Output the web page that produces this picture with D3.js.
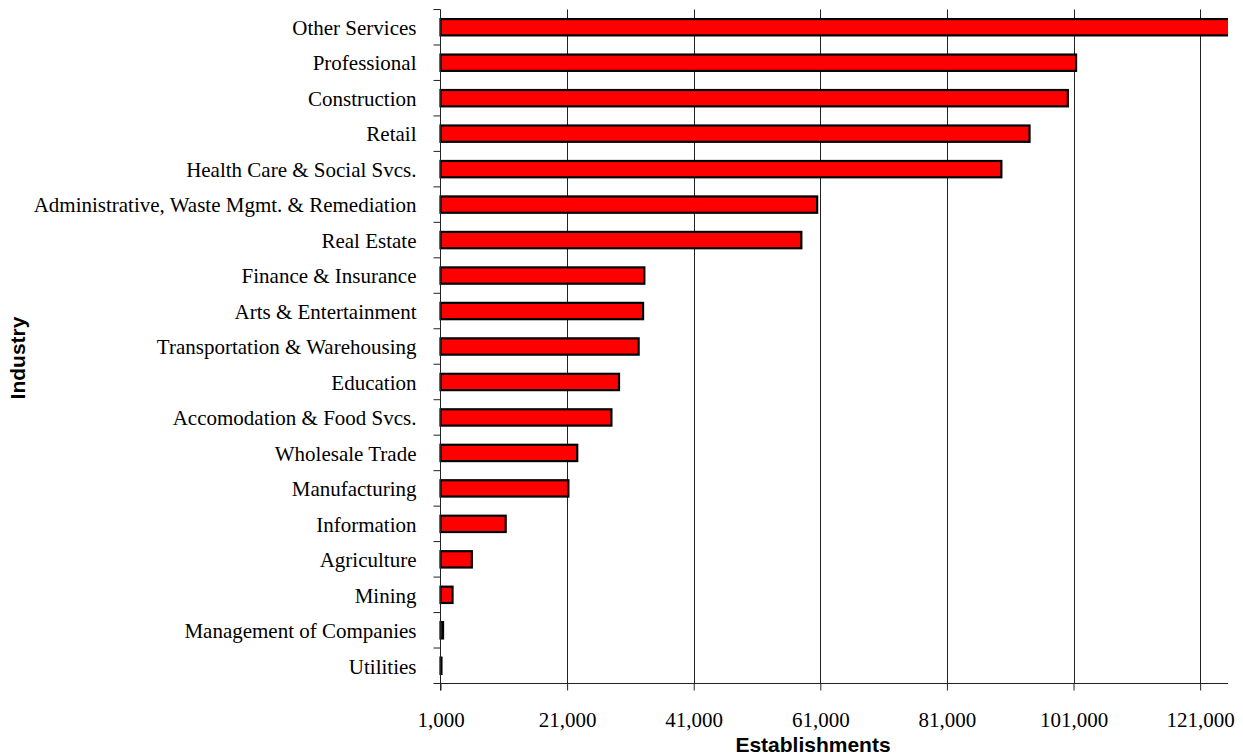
<!DOCTYPE html>
<html>
<head>
<meta charset="utf-8">
<script src="https://cdn.jsdelivr.net/npm/d3@7"></script>
<style>
  body { margin: 0; background: #fff; }
</style>
</head>
<body>
<script>
// industries, top to bottom
var industries = [
  "Other Services", "Professional", "Construction", "Retail",
  "Health Care & Social Svcs.", "Administrative, Waste Mgmt. & Remediation",
  "Real Estate", "Finance & Insurance", "Arts & Entertainment",
  "Transportation & Warehousing", "Education", "Accomodation & Food Svcs.",
  "Wholesale Trade", "Manufacturing", "Information", "Agriculture",
  "Mining", "Management of Companies", "Utilities"
];
// establishments per industry
var establishments = [
  126500, 101400, 100100, 94050,
  89600, 60500,
  58000, 33200, 33000,
  32300, 29200, 28000,
  22600, 21200, 11300, 5950,
  2900, 1400, 1150
];
var xTicks = [1000, 21000, 41000, 61000, 81000, 101000, 121000];
var xMin = 1000, xMax = 125400;

var widthMax = 1243;
var heightMax = 755;
var plotLeft = 440.5, plotRight = 1228, plotTop = 9.5, plotBottom = 683.5;

var svg = d3.select("body").append("svg")
  .attr("width", widthMax)
  .attr("height", heightMax);

var x = d3.scaleLinear().domain([xMin, xMax]).range([plotLeft, plotRight]);
var y = d3.scaleBand().domain(industries).range([plotTop, plotBottom])
  .paddingInner(0.54).paddingOuter(0.27);

// clip for the bar that runs past the axis maximum
svg.append("clipPath").attr("id", "plot")
  .append("rect")
  .attr("x", plotLeft - 2).attr("y", plotTop - 2)
  .attr("width", plotRight - plotLeft + 2).attr("height", plotBottom - plotTop + 4);

// vertical gridlines
svg.append("g")
  .selectAll("line")
  .data(xTicks.slice(1))
  .enter().append("line")
  .attr("x1", function(d) { return Math.round(x(d)) + 0.5; })
  .attr("x2", function(d) { return Math.round(x(d)) + 0.5; })
  .attr("y1", plotTop)
  .attr("y2", plotBottom)
  .attr("stroke", "#222")
  .attr("stroke-width", 1);

// bars
svg.append("g")
  .attr("clip-path", "url(#plot)")
  .selectAll("rect")
  .data(industries)
  .enter().append("rect")
  .attr("x", x(xMin))
  .attr("y", function(d) { return y(d); })
  .attr("width", function(d, i) { return Math.max(0, x(establishments[i]) - x(xMin)); })
  .attr("height", y.bandwidth())
  .attr("fill", "#ff0000")
  .attr("stroke", "#000")
  .attr("stroke-width", 2.2);

// x axis
var xAxis = svg.append("g")
  .attr("transform", "translate(0," + plotBottom + ")")
  .call(d3.axisBottom(x).tickValues(xTicks).tickFormat(d3.format(",")).tickSizeInner(7).tickSizeOuter(0).tickPadding(22));
xAxis.select(".domain").remove();
xAxis.selectAll(".tick line").attr("stroke", "#222");
xAxis.selectAll("text")
  .attr("font-family", "'Liberation Serif', 'Times New Roman', serif")
  .attr("font-size", 21)
  .attr("fill", "#000");
svg.append("line")
  .attr("x1", plotLeft - 7).attr("x2", plotRight)
  .attr("y1", plotBottom).attr("y2", plotBottom)
  .attr("stroke", "#222");

// y axis with ticks between categories
var step = y.step();
var boundaries = d3.range(industries.length).map(function(i) { return plotTop + i * step; });
svg.append("line")
  .attr("x1", plotLeft).attr("x2", plotLeft)
  .attr("y1", plotTop).attr("y2", plotBottom + 7)
  .attr("stroke", "#222");
svg.append("g")
  .selectAll("line")
  .data(boundaries)
  .enter().append("line")
  .attr("x1", plotLeft - 7).attr("x2", plotLeft)
  .attr("y1", function(d) { return d; })
  .attr("y2", function(d) { return d; })
  .attr("stroke", "#222");

svg.append("g")
  .selectAll("text")
  .data(industries)
  .enter().append("text")
  .attr("x", plotLeft - 24)
  .attr("y", function(d) { return y(d) + y.bandwidth() / 2; })
  .attr("dy", "0.37em")
  .attr("text-anchor", "end")
  .attr("font-family", "'Liberation Serif', 'Times New Roman', serif")
  .attr("font-size", 21)
  .text(function(d) { return d; });

// axis titles
svg.append("text")
  .attr("x", 813)
  .attr("y", 752)
  .attr("text-anchor", "middle")
  .attr("font-family", "'Liberation Sans', Arial, sans-serif")
  .attr("font-weight", "bold")
  .attr("font-size", 21)
  .text("Establishments");

svg.append("text")
  .attr("transform", "translate(25,358) rotate(-90)")
  .attr("text-anchor", "middle")
  .attr("font-family", "'Liberation Sans', Arial, sans-serif")
  .attr("font-weight", "bold")
  .attr("font-size", 21)
  .text("Industry");
</script>
</body>
</html>
